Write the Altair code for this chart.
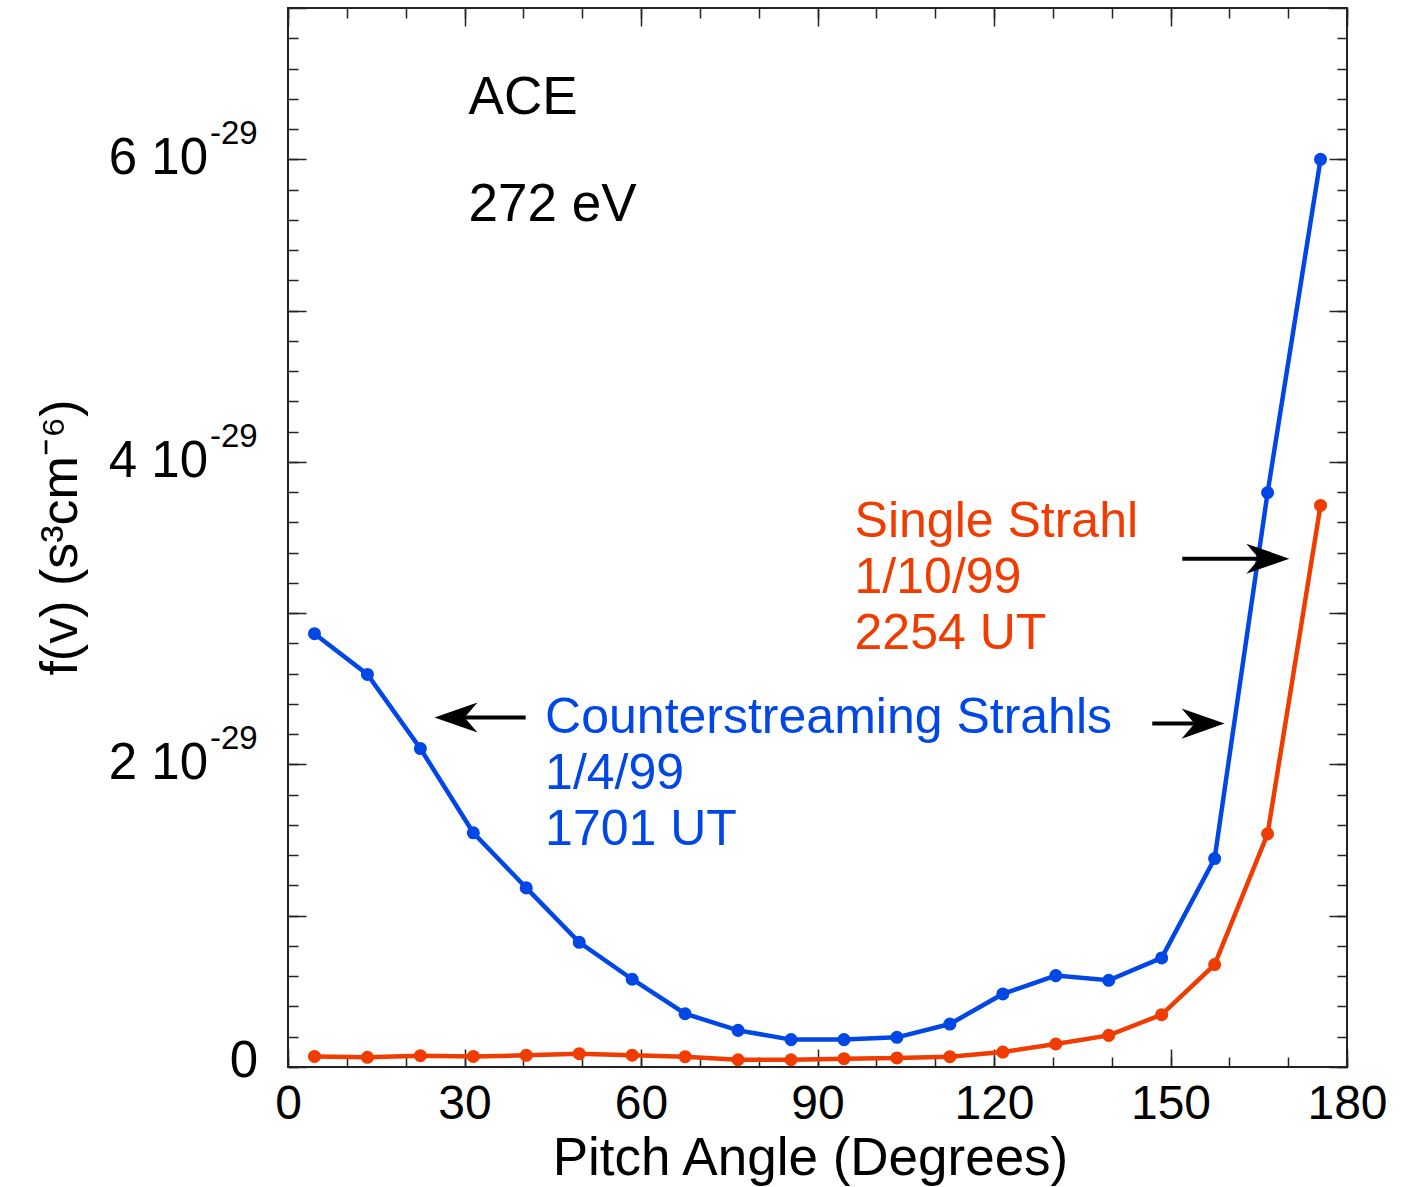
import altair as alt
import pandas as pd

# ---------------- data ----------------
PITCH = [4.5, 13.5, 22.5, 31.5, 40.5, 49.5, 58.5, 67.5, 76.5, 85.5,
         94.5, 103.5, 112.5, 121.5, 130.5, 139.5, 148.5, 157.5, 166.5, 175.5]
BLUE = [2.864e-29, 2.595e-29, 2.105e-29, 1.548e-29, 1.184e-29, 0.824e-29, 0.580e-29,
        0.352e-29, 0.242e-29, 0.181e-29, 0.181e-29, 0.196e-29, 0.284e-29, 0.483e-29,
        0.604e-29, 0.573e-29, 0.721e-29, 1.378e-29, 3.796e-29, 6.000e-29]
RED = [0.070e-29, 0.064e-29, 0.075e-29, 0.070e-29, 0.077e-29, 0.088e-29, 0.078e-29,
       0.068e-29, 0.048e-29, 0.048e-29, 0.055e-29, 0.060e-29, 0.068e-29, 0.099e-29,
       0.152e-29, 0.209e-29, 0.346e-29, 0.677e-29, 1.541e-29, 3.712e-29]

X_TICK_LABELS = [0, 30, 60, 90, 120, 150, 180]
X_MINOR = [0, 10, 20, 30, 40, 50, 60, 70, 80, 90, 100, 110, 120, 130, 140, 150, 160, 170, 180]
Y_LABEL_VALUES = [2e-29, 4e-29, 6e-29]
Y_LABEL_BASE = ["2 10", "4 10", "6 10"]
Y_LABEL_SUP = ["-29", "-29", "-29"]
Y_ZERO = [0.0]
Y_ZERO_TEXT = ["0"]

X_TITLE = "Pitch Angle (Degrees)"
Y_TITLE = "f(v) (s\u00b3cm\u207b\u2076)"

HEAD_TEXT = ["ACE", "272 eV"]
HEAD_X = [30.7, 30.7]
HEAD_Y = [6.30e-29, 5.59e-29]

BLUE_TEXT = ["Counterstreaming Strahls\n1/4/99\n1701 UT"]
BLUE_TEXT_X = [43.7]
BLUE_TEXT_Y = [2.211e-29]
RED_TEXT = ["Single Strahl\n1/10/99\n2254 UT"]
RED_TEXT_X = [96.3]
RED_TEXT_Y = [3.501e-29]

ARROW_FROM = [40.4, 146.9, 152.0]
ARROW_TO = [24.9, 159.2, 170.2]
ARROW_Y = [2.31e-29, 2.27e-29, 3.36e-29]
ARROW_DIR = ["left", "right", "right"]

# ---------------- styling ----------------
FONT = "Liberation Sans"
BLUE_C = "#0047E6"
RED_C = "#F03C00"
TICK_C = "#222222"
W = 1059
H = 1059

Y_MAJOR = [k * 1e-29 for k in range(8)]
Y_MINOR = [k * 0.2e-29 for k in range(36)]

xs = alt.Scale(domain=[0, 180], nice=False, zero=False)
ys = alt.Scale(domain=[0, 7e-29], nice=False, zero=False)


def ax(orient, values, size, **kw):
    base = dict(orient=orient, values=values, tickSize=size, offset=-size,
                domain=False, grid=False, tickColor=TICK_C, tickWidth=1.5,
                labels=False, title="")
    base.update(kw)
    return alt.Axis(**base)


df_blue = pd.DataFrame({"angle": PITCH, "f": BLUE})
df_red = pd.DataFrame({"angle": PITCH, "f": RED})

bottom_major = ax("bottom", X_TICK_LABELS, 18, labels=True, labelFontSize=48,
                  labelFont=FONT, labelColor="black", labelPadding=13,
                  labelFlush=False, labelOverlap=False, format="d",
                  title=X_TITLE, titleFontSize=53, titleFont=FONT,
                  titleFontWeight="normal", titleColor="black", titlePadding=4,
                  titleX=522)

l1 = alt.Chart(df_blue).mark_line(color=BLUE_C, strokeWidth=4.5).encode(
    x=alt.X("angle:Q", scale=xs, axis=bottom_major),
    y=alt.Y("f:Q", scale=ys, axis=ax("left", Y_MAJOR, 18)),
)
l2 = alt.Chart(df_red).mark_line(color=RED_C, strokeWidth=4.5).encode(
    x=alt.X("angle:Q", scale=xs, axis=ax("bottom", X_MINOR, 10)),
    y=alt.Y("f:Q", scale=ys, axis=ax("left", Y_MINOR, 10)),
)
l3 = alt.Chart(df_blue).mark_point(filled=True, color=BLUE_C, size=170, opacity=1).encode(
    x=alt.X("angle:Q", scale=xs, axis=ax("top", X_TICK_LABELS, 18)),
    y=alt.Y("f:Q", scale=ys, axis=ax("right", Y_MAJOR, 18)),
)
l4 = alt.Chart(df_red).mark_point(filled=True, color=RED_C, size=170, opacity=1).encode(
    x=alt.X("angle:Q", scale=xs, axis=ax("top", X_MINOR, 10)),
    y=alt.Y("f:Q", scale=ys, axis=ax("right", Y_MINOR, 10)),
)

# y tick labels with superscripts
df_ylab = pd.DataFrame({"f": Y_LABEL_VALUES, "base": Y_LABEL_BASE, "sup": Y_LABEL_SUP})
ylab_base = alt.Chart(df_ylab).mark_text(font=FONT, fontSize=51, align="right",
                                         baseline="middle", color="black", dy=0).encode(
    x=alt.value(-80), y=alt.Y("f:Q", scale=ys, axis=None), text="base:N")
ylab_sup = alt.Chart(df_ylab).mark_text(font=FONT, fontSize=33, align="left",
                                        baseline="alphabetic", color="black", dy=-15).encode(
    x=alt.value(-78), y=alt.Y("f:Q", scale=ys, axis=None), text="sup:N")
df_zero = pd.DataFrame({"f": Y_ZERO, "t": Y_ZERO_TEXT})
ylab_zero = alt.Chart(df_zero).mark_text(font=FONT, fontSize=51, align="right",
                                         baseline="middle", color="black", dy=-5).encode(
    x=alt.value(-30), y=alt.Y("f:Q", scale=ys, axis=None), text="t:N")

ytitle = alt.Chart(pd.DataFrame({"t": [Y_TITLE]})).mark_text(
    font=FONT, fontSize=52, angle=270, align="center", baseline="alphabetic",
    color="black").encode(x=alt.value(-211), y=alt.value(H / 2), text="t:N")

df_head = pd.DataFrame({"x": HEAD_X, "y": HEAD_Y, "t": HEAD_TEXT})
head = alt.Chart(df_head).mark_text(font=FONT, fontSize=53, align="left",
                                    baseline="alphabetic", color="black").encode(
    x=alt.X("x:Q", scale=xs, axis=None), y=alt.Y("y:Q", scale=ys, axis=None), text="t:N")

df_bt = pd.DataFrame({"x": BLUE_TEXT_X, "y": BLUE_TEXT_Y, "t": BLUE_TEXT})
btext = alt.Chart(df_bt).mark_text(font=FONT, fontSize=50, align="left",
                                   baseline="alphabetic", color=BLUE_C,
                                   lineBreak="\n", lineHeight=56).encode(
    x=alt.X("x:Q", scale=xs, axis=None), y=alt.Y("y:Q", scale=ys, axis=None), text="t:N")

df_rt = pd.DataFrame({"x": RED_TEXT_X, "y": RED_TEXT_Y, "t": RED_TEXT})
rtext = alt.Chart(df_rt).mark_text(font=FONT, fontSize=50, align="left",
                                   baseline="alphabetic", color=RED_C,
                                   lineBreak="\n", lineHeight=56).encode(
    x=alt.X("x:Q", scale=xs, axis=None), y=alt.Y("y:Q", scale=ys, axis=None), text="t:N")

# arrows
shaft_end = [t + (4.0 if d == "left" else -4.0) for t, d in zip(ARROW_TO, ARROW_DIR)]
df_arrow = pd.DataFrame({"x0": ARROW_FROM, "x1": shaft_end, "tip": ARROW_TO,
                         "y": ARROW_Y, "dir": ARROW_DIR})
PATH_L = "M0,0 L2,-0.7 L1.4,0 L2,0.7 Z"
PATH_R = "M0,0 L-2,-0.7 L-1.4,0 L-2,0.7 Z"
shafts = alt.Chart(df_arrow).mark_rule(color="black", strokeWidth=4).encode(
    x=alt.X("x0:Q", scale=xs, axis=None), x2="x1:Q",
    y=alt.Y("y:Q", scale=ys, axis=None))
heads = alt.Chart(df_arrow).mark_point(filled=True, color="black", opacity=1,
                                       size=1849, strokeWidth=0).encode(
    x=alt.X("tip:Q", scale=xs, axis=None),
    y=alt.Y("y:Q", scale=ys, axis=None),
    shape=alt.Shape("dir:N", scale=alt.Scale(domain=["left", "right"],
                                             range=[PATH_L, PATH_R]), legend=None),
)

chart = alt.layer(
    l1, l2, l3, l4, ylab_base, ylab_sup, ylab_zero, ytitle, head, btext, rtext, shafts, heads
).resolve_axis(x="independent", y="independent").properties(
    width=W, height=H,
    autosize=alt.AutoSizeParams(type="none"),
    padding={"left": 288, "top": 8, "right": 62, "bottom": 120},
    background="white",
).configure_view(stroke=TICK_C, strokeWidth=2)

chart.save("out.html", embed_options={"renderer": "svg", "actions": False})
